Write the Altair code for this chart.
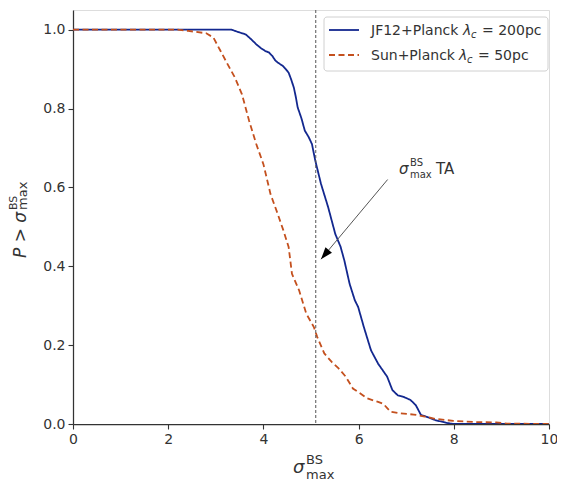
import altair as alt
import pandas as pd

# ---- data ----
jf12_x = [0.0, 1.0, 2.0, 3.0, 3.33, 3.5, 3.63, 3.75, 3.85, 3.95, 4.04, 4.12, 4.19, 4.25, 4.30, 4.36, 4.41, 4.47, 4.53,
          4.58, 4.64, 4.68, 4.72, 4.80, 4.87, 4.95, 5.02, 5.09, 5.21, 5.36, 5.51, 5.62, 5.70, 5.81, 5.92, 5.99,
          6.11, 6.26, 6.41, 6.60, 6.71, 6.82, 6.94, 7.09, 7.20, 7.31, 7.46, 7.61, 7.84, 8.0, 9.0, 10.0]
jf12_y = [1.0, 1.0, 1.0, 1.0, 1.0, 0.993, 0.988, 0.975, 0.963, 0.953, 0.946, 0.942, 0.933, 0.922, 0.917, 0.912, 0.908,
          0.900, 0.891, 0.875, 0.853, 0.830, 0.803, 0.775, 0.744, 0.728, 0.710, 0.668, 0.609, 0.550, 0.482, 0.450,
          0.415, 0.356, 0.314, 0.297, 0.246, 0.187, 0.153, 0.120, 0.086, 0.073, 0.069, 0.061, 0.048, 0.023, 0.017,
          0.010, 0.003, 0.0, 0.0, 0.0]

sun_x = [0.0, 1.0, 2.0, 2.2, 2.42, 2.80, 2.95, 3.10, 3.25, 3.40, 3.55, 3.70, 3.85, 4.00, 4.15, 4.30, 4.42, 4.53,
         4.60, 4.75, 4.90, 5.06, 5.13, 5.28, 5.43, 5.58, 5.73, 5.88, 6.03, 6.18, 6.41, 6.52, 6.67, 6.86, 7.16,
         7.39, 7.61, 7.99, 8.44, 8.89, 9.12, 10.0]
sun_y = [1.0, 1.0, 1.0, 1.0, 0.997, 0.991, 0.980, 0.946, 0.912, 0.879, 0.836, 0.769, 0.710, 0.659, 0.583, 0.533,
         0.491, 0.449, 0.381, 0.339, 0.280, 0.246, 0.221, 0.179, 0.158, 0.141, 0.120, 0.090, 0.078, 0.065, 0.056,
         0.051, 0.031, 0.027, 0.024, 0.019, 0.013, 0.008, 0.005, 0.004, 0.001, 0.0]

series_names = ["JF12+Planck", "Sun+Planck"]
series_colors = ["#13288f", "#c4501e"]
x_ticks = [0, 2, 4, 6, 8, 10]
y_ticks = [0.0, 0.2, 0.4, 0.6, 0.8, 1.0]
ta_value = 5.1
arrow_tail = (6.61, 0.620)
arrow_tip = (5.21, 0.418)

# ---- tables ----
curves = pd.concat([
    pd.DataFrame({"x": jf12_x, "y": jf12_y, "series": series_names[0], "order": range(len(jf12_x))}),
    pd.DataFrame({"x": sun_x, "y": sun_y, "series": series_names[1], "order": range(len(sun_x))}),
])

W, H = 476, 414
TXT = "#333333"
FONT = "DejaVu Sans"

xs = alt.Scale(domain=[0, 10], nice=False, zero=False)
ys = alt.Scale(domain=[0, 1.05], nice=False, zero=False)

base = alt.Chart(curves)

lines = base.mark_line(strokeWidth=1.8, clip=True).encode(
    x=alt.X("x:Q", scale=xs, axis=alt.Axis(values=x_ticks, format="d", title=None, labelFontSize=14,
                                            labelFont=FONT, labelColor=TXT, labelPadding=3, tickSize=5,
                                            tickColor=TXT, domainColor=TXT, domainWidth=1.25, tickWidth=1.1,
                                            grid=False, labelFlush=False)),
    y=alt.Y("y:Q", scale=ys, axis=alt.Axis(values=y_ticks, format=".1f", title=None, labelFontSize=14,
                                            labelFont=FONT, labelColor=TXT, labelPadding=3, tickSize=5,
                                            tickColor=TXT, domainColor=TXT, domainWidth=1.25, tickWidth=1.1,
                                            grid=False)),
    color=alt.Color("series:N", scale=alt.Scale(domain=series_names, range=series_colors), legend=None),
    strokeDash=alt.StrokeDash("series:N", scale=alt.Scale(domain=series_names, range=[[1, 0], [6, 3.5]]),
                              legend=None),
    order="order:Q",
)

vline = alt.Chart(pd.DataFrame({"x": [ta_value]})).mark_rule(
    color="#555555", strokeWidth=1, strokeDash=[3, 2]).encode(x=alt.X("x:Q", scale=xs))

arrow_df = pd.DataFrame({"x": [arrow_tail[0]], "y": [arrow_tail[1]], "x2": [arrow_tip[0]], "y2": [arrow_tip[1]]})
arrow_line = alt.Chart(arrow_df).mark_rule(color="#555555", strokeWidth=1).encode(
    x=alt.X("x:Q", scale=xs), y=alt.Y("y:Q", scale=ys), x2="x2:Q", y2="y2:Q")
arrow_head = alt.Chart(pd.DataFrame({"x": [arrow_tip[0]], "y": [arrow_tip[1]]})).mark_point(
    shape="M0,0L-0.6,1.7L0.6,1.7Z", filled=True, color="black", opacity=1, size=200, angle=220,
    strokeWidth=0).encode(x=alt.X("x:Q", scale=xs), y=alt.Y("y:Q", scale=ys))


def txt(s, x, y, size=14, italic=False, angle=0, color=TXT, align="left", baseline="alphabetic"):
    kw = dict(text=s, fontSize=size, font=FONT, color=color, align=align, baseline=baseline)
    if italic:
        kw["fontStyle"] = "italic"
    if angle:
        kw["angle"] = angle
    return alt.Chart(pd.DataFrame({"a": [0]})).mark_text(**kw).encode(x=alt.value(x), y=alt.value(y))


# annotation sigma_max^BS TA
ann = [
    txt("σ", 326, 164, 15, italic=True),
    txt("BS", 337, 156, 10),
    txt("max", 337, 168, 10),
    txt("TA", 363, 164, 15),
]

# x axis title
xt = [
    txt("σ", 220, 463, 18, italic=True),
    txt("BS", 233, 454, 13),
    txt("max", 233, 469, 13),
]

# y axis title (rotated)
yt = [
    txt("P > σ", -47, 248, 17, italic=True, angle=270),
    txt("BS", -56, 200, 11, angle=270),
    txt("max", -46, 200, 13, angle=270),
]

# legend
legend_box = alt.Chart(pd.DataFrame({"a": [0]})).mark_rect(
    fill="white", stroke="#cccccc", strokeWidth=1, cornerRadius=3, opacity=0.9).encode(
    x=alt.value(251), x2=alt.value(475), y=alt.value(7), y2=alt.value(61))
leg_line1 = alt.Chart(pd.DataFrame({"a": [0]})).mark_rule(color=series_colors[0], strokeWidth=1.8).encode(
    x=alt.value(256), x2=alt.value(286), y=alt.value(20))
leg_line2 = alt.Chart(pd.DataFrame({"a": [0]})).mark_rule(color=series_colors[1], strokeWidth=1.8,
                                                          strokeDash=[6, 3.5]).encode(
    x=alt.value(256), x2=alt.value(286), y=alt.value(45))
leg = [
    txt("JF12+Planck", 298, 25, 14),
    txt("λ", 390, 25, 14, italic=True),
    txt("c", 398, 28, 10, italic=True),
    txt("= 200pc", 409, 25, 14),
    txt("Sun+Planck", 298, 50, 14),
    txt("λ", 386, 50, 14, italic=True),
    txt("c", 394, 53, 10, italic=True),
    txt("= 50pc", 405, 50, 14),
]

chart = alt.layer(
    lines, vline, arrow_line, arrow_head, *ann, *xt, *yt, legend_box, leg_line1, leg_line2, *leg
).properties(
    width=W, height=H, autosize=alt.AutoSizeParams(type="none"),
    padding={"left": 65, "top": 2, "right": 8, "bottom": 58},
).configure_view(stroke=TXT, strokeWidth=1.25).configure(background="white")

chart.save("out.html", embed_options={"renderer": "svg", "actions": False})
